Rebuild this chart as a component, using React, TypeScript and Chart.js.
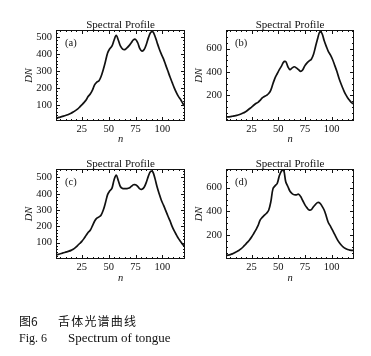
import React, { useEffect, useRef } from 'react';
import { Chart, registerables } from 'chart.js';
Chart.register(...registerables);

// ---------- data ----------
const N = [1,3,5,7,9,11,13,15,17,19,21,23,25,27,29,31,33,35,37,39,41,43,45,47,49,51,53,55,57,59,61,63,65,67,69,71,73,75,77,79,81,83,85,87,89,91,93,95,97,99,101,103,105,107,109,111,113,115,117,119,121];

const SERIES_A = [22,25,28,32,36,40,45,51,58,66,75,87,100,113,128,150,165,188,219,234,242,268,308,355,405,430,445,480,509,480,445,428,425,435,448,465,482,485,465,430,416,425,455,495,525,530,505,467,430,398,370,335,300,265,232,200,172,148,130,108,90];

const SERIES_B = [15,16,18,21,24,28,34,40,48,58,70,85,99,115,130,140,157,178,190,200,215,245,300,350,385,420,450,485,490,445,420,435,445,435,420,405,420,455,478,495,510,550,620,690,745,730,670,620,575,545,505,455,405,345,295,250,210,180,155,135,125];

const SERIES_C = [25,28,32,36,40,44,48,53,60,70,82,95,108,125,145,164,178,205,233,250,258,270,300,345,395,418,433,485,515,480,443,432,432,432,435,445,455,455,445,430,428,440,470,510,538,535,495,443,400,360,330,298,265,235,200,172,148,125,106,88,76];

const SERIES_D = [30,33,37,43,52,62,72,85,101,120,140,160,185,214,245,280,327,350,369,385,410,480,590,615,635,700,740,750,650,610,570,550,540,540,545,525,490,455,430,412,415,440,460,475,470,445,412,360,305,275,240,205,170,140,118,100,88,80,75,73,72];

const X_TICKS = [25, 50, 75, 100];
const Y_TICKS_AC = [100, 200, 300, 400, 500];
const Y_TICKS_BD = [200, 400, 600];
const PANEL_LABELS = ['(a)', '(b)', '(c)', '(d)'];
const PANEL_TITLE = 'Spectral Profile';
const X_TITLE = 'n';
const Y_TITLE = 'DN';
const CAPTION_CN = ['图6', '舌体光谱曲线'];
const CAPTION_EN = ['Fig. 6', 'Spectrum of tongue'];

// ---------- layout / style ----------
const SERIF = '"Liberation Serif", "DejaVu Serif", serif';
const INK = '#111111';

type Panel = {
  label: string; values: number[]; yTicks: number[]; yMin: number; yMax: number;
  yMinor: number; area: { l: number; t: number; r: number; b: number };
};

const PANELS: Panel[] = [
  { label: PANEL_LABELS[0], values: SERIES_A, yTicks: Y_TICKS_AC, yMin: 5, yMax: 540, yMinor: 20, area: { l: 56, t: 30, r: 185, b: 121 } },
  { label: PANEL_LABELS[1], values: SERIES_B, yTicks: Y_TICKS_BD, yMin: -20, yMax: 760, yMinor: 50, area: { l: 226, t: 30, r: 354, b: 121 } },
  { label: PANEL_LABELS[2], values: SERIES_C, yTicks: Y_TICKS_AC, yMin: 0, yMax: 552, yMinor: 20, area: { l: 56, t: 169, r: 185, b: 259 } },
  { label: PANEL_LABELS[3], values: SERIES_D, yTicks: Y_TICKS_BD, yMin: 0, yMax: 757, yMinor: 50, area: { l: 226, t: 169, r: 354, b: 259 } },
];

const CW = 190;
const CH = 150;
const LEFT_W = 56;
const TOP_P = 30;

const framePlugin = {
  id: 'mmaFrame',
  afterDatasetsDraw(chart: any) {
    const { ctx, chartArea: a, scales } = chart;
    const xs = scales.x, ys = scales.y;
    const o = chart.options.plugins.mmaFrame;
    ctx.save();
    ctx.strokeStyle = INK;
    ctx.lineWidth = 1;
    ctx.strokeRect(a.left + 0.5, a.top + 0.5, a.right - a.left - 1, a.bottom - a.top - 1);
    const seg = (x1: number, y1: number, x2: number, y2: number) => {
      ctx.beginPath(); ctx.moveTo(x1, y1); ctx.lineTo(x2, y2); ctx.stroke();
    };
    for (let v = 5; v < xs.max; v += 5) {
      if (v <= xs.min) continue;
      const major = v % 25 === 0;
      const len = major ? 4 : 2;
      const px = Math.round(xs.getPixelForValue(v)) + 0.5;
      seg(px, a.bottom, px, a.bottom - len);
      seg(px, a.top, px, a.top + len);
    }
    const step = o.minor;
    for (let v = Math.ceil(ys.min / step) * step; v < ys.max; v += step) {
      if (v <= ys.min) continue;
      const major = o.major.includes(v);
      const len = major ? 4 : 2;
      const py = Math.round(ys.getPixelForValue(v)) + 0.5;
      seg(a.left, py, a.left + len, py);
      seg(a.right, py, a.right - len, py);
    }
    ctx.restore();
  },
  afterDraw(chart: any) {
    const { ctx, chartArea: a } = chart;
    const o = chart.options.plugins.mmaFrame;
    ctx.save();
    ctx.fillStyle = INK;
    ctx.font = `11px ${SERIF}`;
    ctx.textAlign = 'center';
    ctx.textBaseline = 'alphabetic';
    ctx.fillText(PANEL_TITLE, (a.left + a.right) / 2, a.top - 2.5);
    ctx.font = `10.5px ${SERIF}`;
    ctx.textAlign = 'left';
    ctx.fillText(o.label, a.left + 9, a.top + 16);
    ctx.restore();
  },
};

function PanelChart({ p }: { p: Panel }) {
  const ref = useRef<HTMLCanvasElement | null>(null);
  const canvasLeft = p.area.l - LEFT_W;
  const canvasTop = p.area.t - TOP_P;
  useEffect(() => {
    if (!ref.current) return;
    const rightPad = CW - (p.area.r - canvasLeft);
    const xHeight = CH - (p.area.b - canvasTop);
    const chart = new Chart(ref.current, {
      type: 'line',
      data: {
        datasets: [{
          data: N.map((n, i) => ({ x: n, y: p.values[i] })),
          borderColor: INK,
          borderWidth: 1.7,
          pointRadius: 0,
          tension: 0.35,
          fill: false,
        }],
      },
      options: {
        animation: false,
        responsive: false,
        events: [],
        layout: { padding: { left: 0, right: rightPad, top: TOP_P, bottom: 0 } },
        plugins: {
          legend: { display: false },
          tooltip: { enabled: false },
          mmaFrame: { label: p.label, major: p.yTicks, minor: p.yMinor },
        } as any,
        scales: {
          x: {
            type: 'linear',
            min: 1,
            max: 121,
            grid: { display: false, drawTicks: false },
            border: { display: false },
            afterBuildTicks: (s: any) => { s.ticks = X_TICKS.map((v) => ({ value: v })); },
            afterFit: (s: any) => { s.height = xHeight; },
            ticks: { font: { family: SERIF, size: 10.5 }, color: INK, padding: 2, maxRotation: 0 },
            title: { display: true, text: X_TITLE, font: { family: SERIF, size: 10.5, style: 'italic' }, color: INK, padding: { top: 0, bottom: 4 } },
          },
          y: {
            type: 'linear',
            min: p.yMin,
            max: p.yMax,
            grid: { display: false, drawTicks: false },
            border: { display: false },
            afterBuildTicks: (s: any) => { s.ticks = p.yTicks.map((v) => ({ value: v })); },
            afterFit: (s: any) => { s.width = LEFT_W; },
            ticks: { font: { family: SERIF, size: 10.5 }, color: INK, padding: 4 },
            title: { display: true, text: Y_TITLE, font: { family: SERIF, size: 10.5, style: 'italic' }, color: INK, padding: { top: 23, bottom: 0 } },
          },
        },
      },
      plugins: [framePlugin],
    });
    return () => chart.destroy();
  }, []);
  return (
    <canvas
      ref={ref}
      width={CW}
      height={CH}
      style={{ position: 'absolute', left: canvasLeft, top: canvasTop, width: CW, height: CH }}
    />
  );
}

export default function App() {
  return (
    <div style={{ position: 'fixed', left: 0, top: 0, width: 371, height: 356, background: '#fff', overflow: 'hidden' }}>
      {PANELS.map((p) => <PanelChart key={p.label} p={p} />)}
      <div style={{ position: 'absolute', left: 19, top: 314, fontFamily: '"Noto Sans CJK SC", sans-serif', fontSize: 12, lineHeight: '14px', color: INK, whiteSpace: 'nowrap' }}>{CAPTION_CN[0]}</div>
      <div style={{ position: 'absolute', left: 58, top: 314, fontFamily: '"Noto Sans CJK SC", sans-serif', fontSize: 12, lineHeight: '14px', letterSpacing: '1.2px', color: INK, whiteSpace: 'nowrap' }}>{CAPTION_CN[1]}</div>
      <div style={{ position: 'absolute', left: 19, top: 331, fontFamily: SERIF, fontSize: 12, lineHeight: '14px', color: INK, whiteSpace: 'nowrap' }}>{CAPTION_EN[0]}</div>
      <div style={{ position: 'absolute', left: 68, top: 331, fontFamily: SERIF, fontSize: 13, lineHeight: '14px', color: INK, whiteSpace: 'nowrap' }}>{CAPTION_EN[1]}</div>
    </div>
  );
}
